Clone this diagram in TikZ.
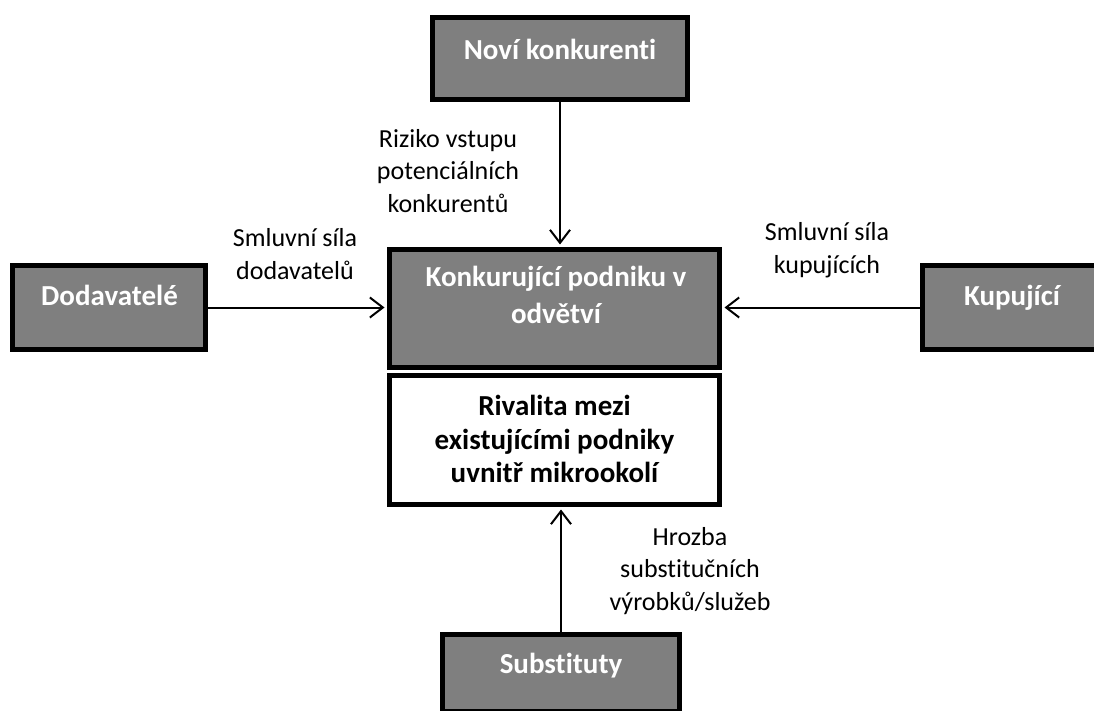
\documentclass[tikz,border=0pt]{standalone}
\usepackage{fontspec}
\setmainfont{Carlito}[Ligatures=NoCommon]
\usetikzlibrary{arrows.meta}
\definecolor{boxgray}{RGB}{127,127,127}
\tikzset{
  graybox/.style={draw=black, line width=5pt, fill=boxgray, inner sep=0pt},
  whitebox/.style={draw=black, line width=5pt, fill=white, inner sep=0pt},
  boxtext/.style={inner sep=0pt, font=\fontsize{29}{37}\selectfont\bfseries, align=center},
  lbl/.style={inner sep=0pt, font=\fontsize{26}{32.5}\selectfont, align=center},
  conn/.style={line width=2pt, -{Straight Barb[length=13pt,width=20pt,line width=2pt]}, shorten >=2.5pt}
}
\begin{document}
\begin{tikzpicture}[x=1pt,y=-1pt]
\useasboundingbox (0,0) rectangle (1094,711);
\fill[white] (0,0) rectangle (1094,711);
% boxes
\node[graybox, minimum width=255pt, minimum height=82pt] (novi) at (560,58.5) {};
\node[graybox, minimum width=193pt, minimum height=84pt] (dod) at (109,307.5) {};
\node[graybox, minimum width=179pt, minimum height=84pt] (kup) at (1012,307.5) {};
\node[graybox, minimum width=330pt, minimum height=118pt] (konk) at (554.5,308.5) {};
\node[whitebox, minimum width=330pt, minimum height=129pt] (riv) at (554.5,440) {};
\node[graybox, minimum width=237pt, minimum height=77pt] (sub) at (561,673) {};
% box texts
\node[boxtext, text=white, anchor=base] (tnovi) at (560,60) {Noví konkurenti};
\node[boxtext, text=white, anchor=base] (tdod) at (109.5,305) {Dodavatelé};
\node[boxtext, text=white, anchor=base] (tkup) at (1012,305) {Kupující};
\node[boxtext, text=white, anchor=base] (tsub) at (561,673) {Substituty};
\node[boxtext, text=white] (tkonk) at (556,295) {Konkurující podniku v\\odvětví};
\node[boxtext, text=black, font=\fontsize{29}{33.5}\selectfont\bfseries] (triv) at (554.5,439) {Rivalita mezi\\existujícími podniky\\uvnitř mikrookolí};
% connectors
\draw[conn] (novi.south) -- (novi.south |- konk.north);
\draw[conn] (dod.east) -- (dod.east -| konk.west);
\draw[conn] (kup.west) -- (kup.west -| konk.east);
\draw[conn] (sub.north) -- (sub.north |- riv.south);
% labels
\node[lbl] (lriz) at (448,171) {Riziko vstupu\\potenciálních\\konkurentů};
\node[lbl] (ldod) at (295,254) {Smluvní síla\\dodavatelů};
\node[lbl] (lkup) at (827,250) {Smluvní síla\\kupujících};
\node[lbl] (lsub) at (690,571) {Hrozba\\substitučních\\výrobků/služeb};
\end{tikzpicture}
\end{document}
